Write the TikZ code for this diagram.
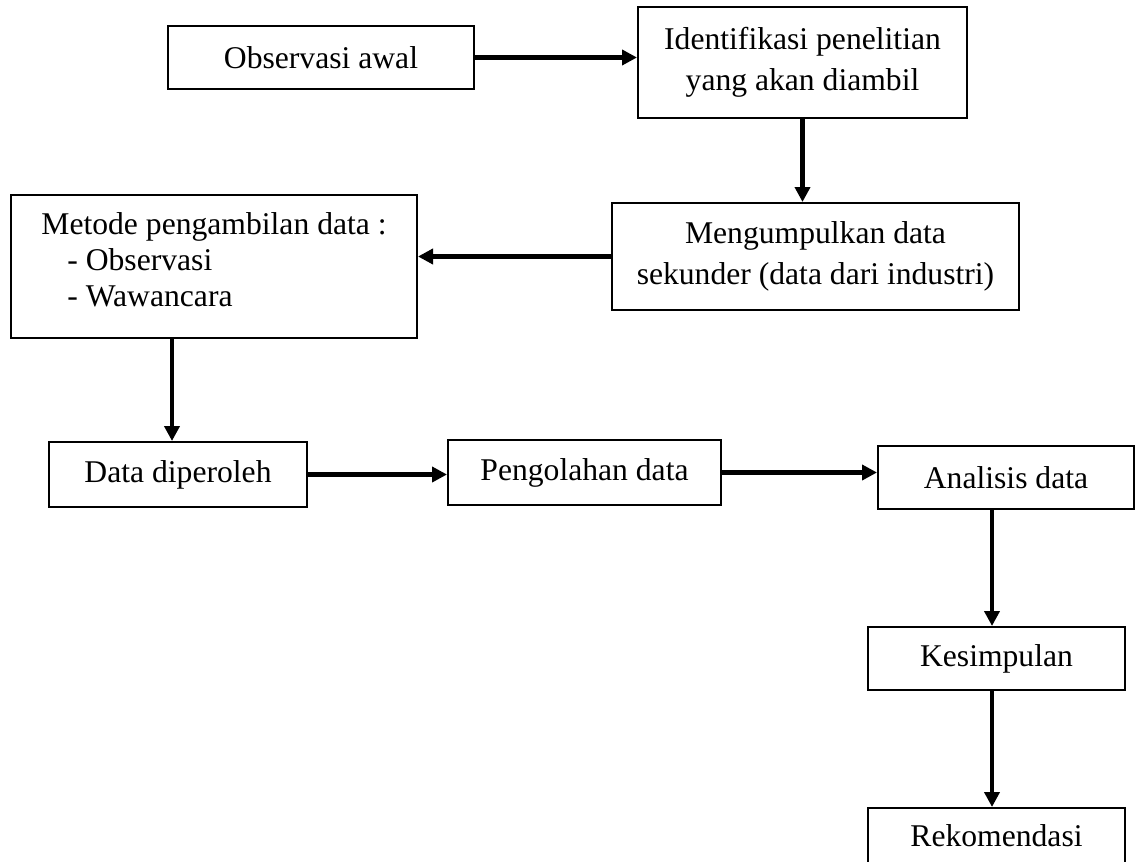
\documentclass[tikz,border=0pt]{standalone}
\usepackage{fontspec}
\setmainfont{Liberation Serif}
\usepackage{tikz}
\usetikzlibrary{arrows.meta,positioning}

\begin{document}
\begin{tikzpicture}[
box/.style={draw=black, line width=0.04cm, fill=white, align=center, inner sep=0pt, font=\fontsize{18}{23.5}\selectfont},
arrow/.style={-{Triangle[length=0.3cm,width=0.3cm]}, line width=0.09cm, black}
]
\useasboundingbox (0,0) rectangle (22.76,17.22);

\node[box, minimum width=6.12cm, minimum height=1.26cm] (obs) at (6.42,16.07) {Observasi awal};
\node[box, minimum width=6.58cm, minimum height=2.22cm] (iden) at (16.05,15.97) {Identifikasi penelitian\\yang akan diambil};
\node[box, minimum width=8.14cm, minimum height=2.14cm] (kumpul) at (16.31,12.09) {Mengumpulkan data\\sekunder (data dari industri)};
\node[box, minimum width=8.12cm, minimum height=2.86cm, align=left, font=\fontsize{18}{20.5}\selectfont] (metode) at (4.28,11.89)
  {Metode pengambilan data :\\\hspace*{0.52cm}- Observasi\\\hspace*{0.52cm}- Wawancara\\[-12.5pt]\mbox{}};
\node[box, minimum width=5.16cm, minimum height=1.30cm] (data) at (3.56,7.73) {Data diperoleh};
\node[box, minimum width=5.46cm, minimum height=1.30cm] (olah) at (11.69,7.77) {Pengolahan data};
\node[box, minimum width=5.12cm, minimum height=1.26cm] (analisis) at (20.12,7.67) {Analisis data};
\node[box, minimum width=5.14cm, minimum height=1.26cm, below=2.32cm of analisis.south, anchor=north, xshift=-0.19cm] (simpul) {Kesimpulan};
\node[box, minimum width=5.14cm, minimum height=1.10cm, below=2.32cm of simpul] (rekom) {Rekomendasi};

\draw[arrow] (obs.east) -- (obs.east -| iden.west);
\draw[arrow] (iden.south) -- (iden.south |- kumpul.north);
\draw[arrow] (kumpul.west) -- (kumpul.west -| metode.east);
\draw[arrow] ([xshift=-0.12cm]data.north |- metode.south) -- ([xshift=-0.12cm]data.north);
\draw[arrow] (data.east) -- (data.east -| olah.west);
\draw[arrow] (olah.east) -- (olah.east -| analisis.west);
\draw[arrow] ([xshift=-0.09cm]simpul.north |- analisis.south) -- ([xshift=-0.09cm]simpul.north);
\draw[arrow] ([xshift=-0.09cm]simpul.south) -- ([xshift=-0.09cm]rekom.north);
\end{tikzpicture}
\end{document}
